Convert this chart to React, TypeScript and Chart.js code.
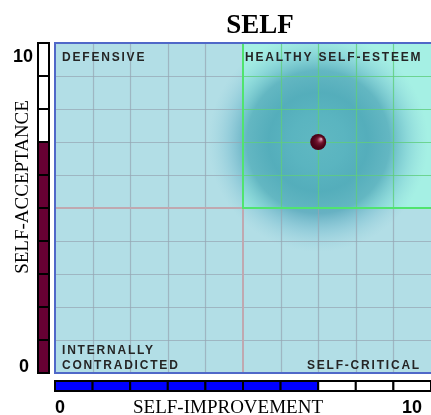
import { useEffect, useRef } from 'react';
import { Chart, registerables } from 'chart.js';

Chart.register(...registerables);

const chartTitle = 'SELF';
const xAxisTitle = 'SELF-IMPROVEMENT';
const yAxisTitle = 'SELF-ACCEPTANCE';
const tickLabels = ['0', '10'];
const axisMin = 0;
const axisMax = 10;
const midValue = 5;
const selfImprovement = [7];
const selfAcceptance = [7];
const quadrantLabels = ['DEFENSIVE', 'HEALTHY SELF-ESTEEM', 'INTERNALLY', 'CONTRADICTED', 'SELF-CRITICAL'];

const SANS = '"Liberation Sans", Arial, sans-serif';
const SERIF = '"Liberation Serif", "Times New Roman", serif';

const selfPlugin = {
  id: 'selfPlugin',
  beforeDatasetsDraw(chart: any) {
    const { ctx, chartArea: a, scales } = chart;
    const x = scales.x;
    const y = scales.y;
    const mx = x.getPixelForValue(midValue);
    const my = y.getPixelForValue(midValue);
    const w = a.right - a.left;
    const h = a.bottom - a.top;
    ctx.save();
    ctx.beginPath();
    ctx.rect(a.left, a.top, w, h);
    ctx.clip();
    ctx.fillStyle = 'rgb(178,222,230)';
    ctx.fillRect(a.left, a.top, w, h);
    ctx.fillStyle = 'rgb(165,240,228)';
    ctx.fillRect(mx, a.top, a.right - mx, my - a.top);

    const px = x.getPixelForValue(selfImprovement[0]);
    const py = y.getPixelForValue(selfAcceptance[0]);
    const r = 110;
    const g = ctx.createRadialGradient(px, py, 0, px, py, r);
    g.addColorStop(0, 'rgba(88,178,190,0.9)');
    g.addColorStop(0.25, 'rgba(82,174,188,0.9)');
    g.addColorStop(0.45, 'rgba(70,162,180,0.85)');
    g.addColorStop(0.65, 'rgba(68,156,178,0.68)');
    g.addColorStop(0.82, 'rgba(100,178,200,0.35)');
    g.addColorStop(1, 'rgba(140,200,215,0)');
    ctx.fillStyle = g;
    ctx.beginPath();
    ctx.arc(px, py, r, 0, Math.PI * 2);
    ctx.fill();

    const gray = 'rgba(150,165,178,0.7)';
    const green = 'rgba(95,205,125,0.8)';
    ctx.lineWidth = 1.2;
    for (let i = axisMin + 1; i < axisMax; i++) {
      if (i === midValue) continue;
      const vx = Math.round(x.getPixelForValue(i)) + 0.5;
      const hy = Math.round(y.getPixelForValue(i)) + 0.5;
      if (i > midValue) {
        ctx.strokeStyle = green;
        ctx.beginPath(); ctx.moveTo(vx, a.top); ctx.lineTo(vx, my); ctx.stroke();
        ctx.strokeStyle = gray;
        ctx.beginPath(); ctx.moveTo(vx, my); ctx.lineTo(vx, a.bottom); ctx.stroke();
      } else {
        ctx.strokeStyle = gray;
        ctx.beginPath(); ctx.moveTo(vx, a.top); ctx.lineTo(vx, a.bottom); ctx.stroke();
      }
      if (i > midValue) {
        ctx.strokeStyle = gray;
        ctx.beginPath(); ctx.moveTo(a.left, hy); ctx.lineTo(mx, hy); ctx.stroke();
        ctx.strokeStyle = green;
        ctx.beginPath(); ctx.moveTo(mx, hy); ctx.lineTo(a.right, hy); ctx.stroke();
      } else {
        ctx.strokeStyle = gray;
        ctx.beginPath(); ctx.moveTo(a.left, hy); ctx.lineTo(a.right, hy); ctx.stroke();
      }
    }
    ctx.lineWidth = 2;
    ctx.strokeStyle = 'rgb(192,168,176)';
    ctx.beginPath(); ctx.moveTo(mx, my); ctx.lineTo(mx, a.bottom); ctx.stroke();
    ctx.beginPath(); ctx.moveTo(a.left, my); ctx.lineTo(mx, my); ctx.stroke();
    ctx.strokeStyle = 'rgb(80,228,110)';
    ctx.beginPath(); ctx.moveTo(mx, a.top); ctx.lineTo(mx, my); ctx.lineTo(a.right, my); ctx.stroke();
    ctx.restore();

    ctx.save();
    ctx.strokeStyle = 'rgb(80,104,200)';
    ctx.lineWidth = 2;
    ctx.strokeRect(a.left, a.top, w + 2, h);
    ctx.restore();

    ctx.save();
    ctx.fillStyle = '#252525';
    ctx.font = `bold 12px ${SANS}`;
    (ctx as any).letterSpacing = '1.8px';
    ctx.textBaseline = 'alphabetic';
    ctx.textAlign = 'left';
    ctx.fillText(quadrantLabels[0], a.left + 7, a.top + 18);
    ctx.fillText(quadrantLabels[1], mx + 2, a.top + 18);
    ctx.fillText(quadrantLabels[2], a.left + 7, a.bottom - 19);
    ctx.fillText(quadrantLabels[3], a.left + 7, a.bottom - 4);
    ctx.textAlign = 'right';
    ctx.fillText(quadrantLabels[4], a.right - 10, a.bottom - 4);
    ctx.restore();
  },
  afterDatasetsDraw(chart: any) {
    const { ctx } = chart;
    const meta = chart.getDatasetMeta(0);
    meta.data.forEach((pt: any) => {
      const g = ctx.createRadialGradient(pt.x + 3, pt.y - 3, 0.5, pt.x, pt.y, 8);
      g.addColorStop(0, 'rgba(235,180,200,0.9)');
      g.addColorStop(0.35, 'rgba(150,40,70,0.6)');
      g.addColorStop(1, 'rgba(60,0,20,0)');
      ctx.save();
      ctx.fillStyle = g;
      ctx.beginPath();
      ctx.arc(pt.x, pt.y, 8, 0, Math.PI * 2);
      ctx.fill();
      ctx.restore();
    });
  },
  afterDraw(chart: any) {
    const { ctx, chartArea: a, scales } = chart;
    const x = scales.x;
    const y = scales.y;
    ctx.save();
    ctx.lineWidth = 2;
    ctx.strokeStyle = '#000';
    for (let i = axisMin; i < axisMax; i++) {
      const y0 = y.getPixelForValue(i);
      const y1 = y.getPixelForValue(i + 1);
      ctx.fillStyle = i < selfAcceptance[0] ? '#660033' : '#ffffff';
      ctx.fillRect(38, y1, 11, y0 - y1);
      ctx.strokeRect(38, y1, 11, y0 - y1);
    }
    for (let i = axisMin; i < axisMax; i++) {
      const x0 = x.getPixelForValue(i);
      const x1 = x.getPixelForValue(i + 1);
      ctx.fillStyle = i < selfImprovement[0] ? '#0000ff' : '#ffffff';
      ctx.fillRect(x0, a.bottom + 8, x1 - x0, 10);
      ctx.strokeRect(x0, a.bottom + 8, x1 - x0, 10);
    }
    ctx.fillStyle = '#000';
    ctx.font = `bold 18px ${SANS}`;
    ctx.textBaseline = 'alphabetic';
    ctx.textAlign = 'right';
    ctx.fillText(tickLabels[1], 33, 62);
    ctx.fillText(tickLabels[0], 29, 372);
    ctx.textAlign = 'left';
    ctx.fillText(tickLabels[0], 55, 413);
    ctx.fillText(tickLabels[1], 402, 413);
    ctx.font = `19px ${SERIF}`;
    ctx.textAlign = 'center';
    ctx.fillText(xAxisTitle, 228, 413);
    ctx.save();
    ctx.translate(28, 187);
    ctx.rotate(-Math.PI / 2);
    ctx.fillText(yAxisTitle, 0, 0);
    ctx.restore();
    ctx.font = `bold 27px ${SERIF}`;
    ctx.fillText(chartTitle, 260, 33);
    ctx.restore();
  },
};

export default function App() {
  const ref = useRef<HTMLCanvasElement | null>(null);
  useEffect(() => {
    if (!ref.current) return;
    const chart = new Chart(ref.current, {
      type: 'scatter',
      data: {
        datasets: [
          {
            data: selfImprovement.map((v, i) => ({ x: v, y: selfAcceptance[i] })),
            pointRadius: 8,
            pointHoverRadius: 8,
            backgroundColor: '#4a0014',
            borderWidth: 0,
          },
        ],
      },
      options: {
        animation: false,
        responsive: false,
        maintainAspectRatio: false,
        layout: { autoPadding: false, padding: { left: 55, top: 43, right: 0, bottom: 42 } },
        scales: {
          x: { type: 'linear', min: axisMin, max: axisMax, display: false },
          y: { type: 'linear', min: axisMin, max: axisMax, display: false },
        },
        plugins: { legend: { display: false }, tooltip: { enabled: false }, title: { display: false } },
        events: [],
      },
      plugins: [selfPlugin],
    });
    return () => chart.destroy();
  }, []);
  return (
    <div style={{ position: 'absolute', left: 0, top: 0, width: 431, height: 415 }}>
      <canvas ref={ref} width={431} height={415} style={{ display: 'block', width: 431, height: 415 }} />
    </div>
  );
}
